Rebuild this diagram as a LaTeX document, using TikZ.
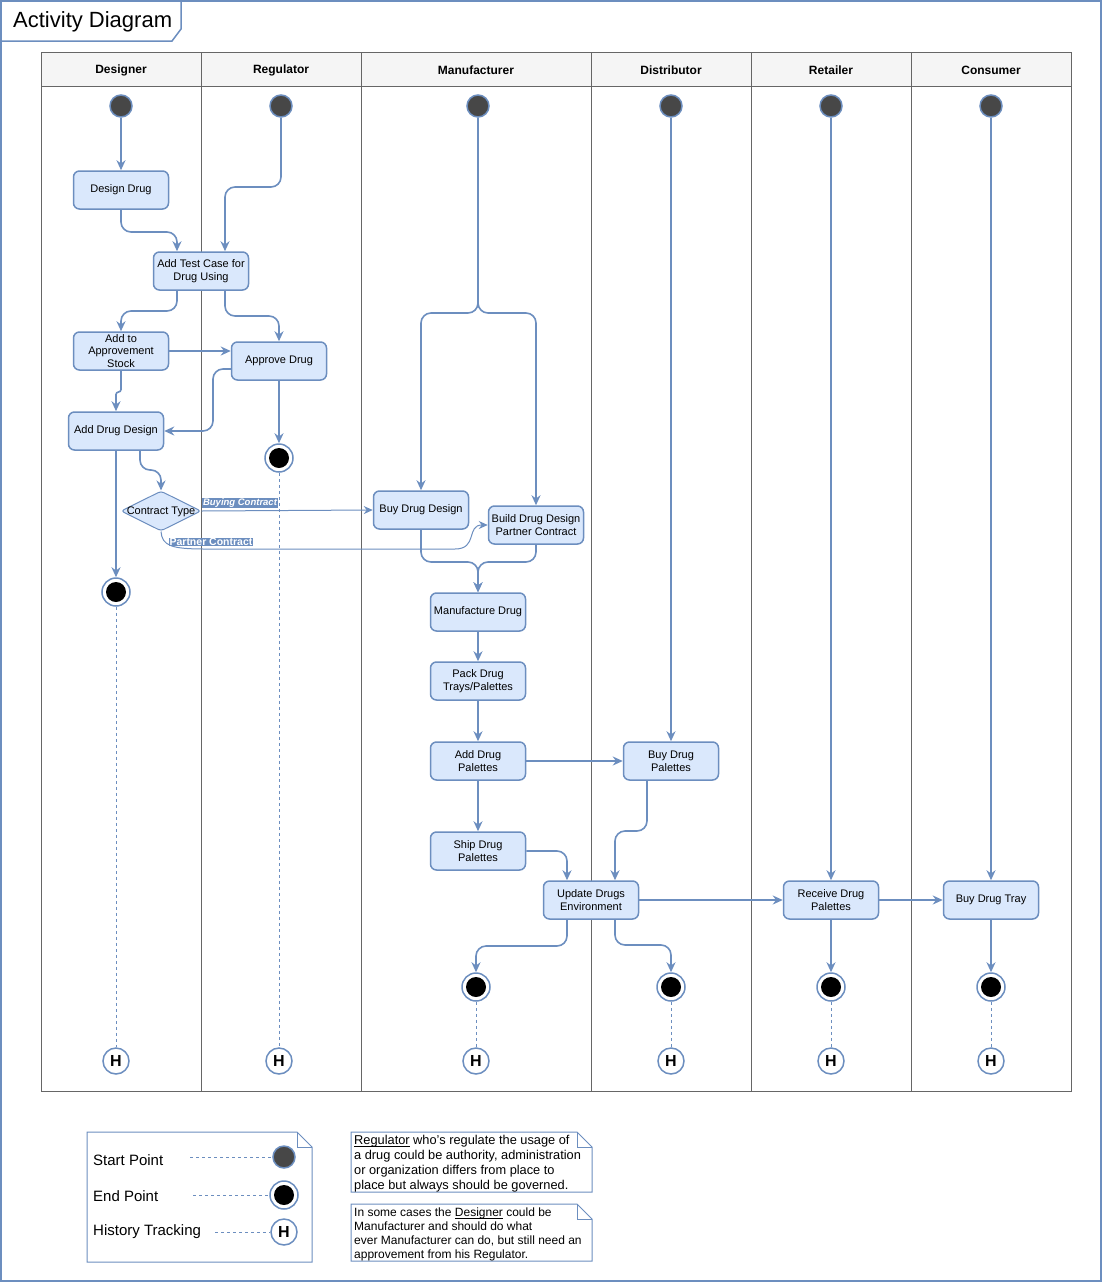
\documentclass[tikz,border=0pt]{standalone}
\usepackage{fontspec}
\setmainfont{Liberation Sans}
\usetikzlibrary{shapes.geometric,arrows.meta,calc}
\definecolor{bstroke}{HTML}{6C8EBF}
\definecolor{bfill}{HTML}{DAE8FC}
\definecolor{lanegray}{HTML}{666666}
\definecolor{headfill}{HTML}{F5F5F5}
\definecolor{startfill}{HTML}{474747}
\newcommand\myul[1]{\setbox0\hbox{#1}\rlap{\rule[-1.8pt]{\wd0}{0.7pt}}\box0\relax}
\begin{document}
\begin{tikzpicture}[x=1pt,y=-1pt,
  act/.style={draw=bstroke, fill=bfill, line width=1.5pt, rounded corners=6pt, minimum width=95pt, minimum height=38pt, align=center, inner sep=1pt, font=\fontsize{11}{13}\selectfont},
  startnode/.style={circle, draw=bstroke, fill=startfill, line width=1.5pt, minimum size=22pt, inner sep=0pt},
  endnode/.style={circle, draw=bstroke, fill=white, line width=1.5pt, minimum size=28pt, inner sep=0pt, path picture={\fill[black] (path picture bounding box.center) circle (10pt);}},
  hist/.style={circle, draw=bstroke, fill=white, line width=1.5pt, minimum size=26pt, inner sep=0pt, font=\bfseries\fontsize{16}{16}\selectfont},
  decision/.style={diamond, draw=bstroke, fill=bfill, line width=1pt, minimum width=80pt, minimum height=40pt, inner sep=0pt, rounded corners=3pt},
  edge/.style={draw=bstroke, line width=1.6pt, rounded corners=10pt, -{Stealth[length=10pt,width=9pt]}},
  thinedge/.style={draw=bstroke, line width=1pt, -{Stealth[length=9pt,width=8pt]}},
  elabel/.style={fill=bstroke, text=white, inner sep=0.6pt, font=\bfseries\fontsize{10.5}{12}\selectfont},
  dashline/.style={draw=bstroke, line width=0.8pt, dash pattern=on 3pt off 3pt},
  lanehead/.style={font=\bfseries\fontsize{12}{14}\selectfont},
  notebox/.style={draw=bstroke, line width=1pt, fill=white},
  plain/.style={inner sep=0pt}
]
\useasboundingbox (0,0) rectangle (1102,1282);
% outer frame
\draw[bstroke, line width=1.5pt] (1,1) rectangle (1101,1281);
\draw[bstroke, line width=1.5pt, fill=white] (1,1) -- (181,1) -- (181,29) -- (172,41) -- (1,41) -- cycle;
\node[anchor=west, inner sep=0pt, font=\fontsize{22}{26}\selectfont] (title) at (13,22) {Activity Diagram};

% swimlanes
\draw[lanegray, line width=1pt, fill=headfill] (41,52) rectangle (1071,86);
\draw[lanegray, line width=1pt] (41,86) rectangle (1071,1091);
\foreach \xx in {201,361,591,751,911} \draw[lanegray, line width=1pt] (\xx,52) -- (\xx,1091);
\node[lanehead] (hd1) at (121,70) {Designer};
\node[lanehead] (hd2) at (281,70) {Regulator};
\node[lanehead] (hd3) at (476,70) {Manufacturer};
\node[lanehead] (hd4) at (671,70) {Distributor};
\node[lanehead] (hd5) at (831,70) {Retailer};
\node[lanehead] (hd6) at (991,70) {Consumer};

% start nodes
\node[startnode] (s1) at (121,106) {};
\node[startnode] (s2) at (281,106) {};
\node[startnode] (s3) at (478,106) {};
\node[startnode] (s4) at (671,106) {};
\node[startnode] (s5) at (831,106) {};
\node[startnode] (s6) at (991,106) {};

% actions
\node[act] (dd) at (121,190) {Design Drug};
\node[act] (tc) at (201,271) {Add Test Case for\\Drug Using};
\node[act, font=\fontsize{11}{12.5}\selectfont, inner sep=0pt] (aas) at (121,351) {Add to\\Approvement\\Stock};
\node[act] (ad) at (279,361) {Approve Drug};
\node[act] (add) at (116,431) {Add Drug Design};
\node[endnode] (e2) at (279,458) {};
\node[decision] (ct) at (161,511) {};
\node[font=\fontsize{11}{13}\selectfont, inner sep=0pt] (ctl) at (161,511.5) {Contract Type};
\node[act] (bdd) at (421,510) {Buy Drug Design};
\node[act] (bpc) at (536,525) {Build Drug Design\\Partner Contract};
\node[endnode] (e1) at (116,592) {};
\node[act] (md) at (478,612) {Manufacture Drug};
\node[act] (pd) at (478,681) {Pack Drug\\Trays/Palettes};
\node[act] (adp) at (478,761) {Add Drug\\Palettes};
\node[act] (bdp) at (671,761) {Buy Drug\\Palettes};
\node[act] (sdp) at (478,851) {Ship Drug\\Palettes};
\node[act] (ude) at (591,900) {Update Drugs\\Environment};
\node[act] (rdp) at (831,900) {Receive Drug\\Palettes};
\node[act] (bdt) at (991,900) {Buy Drug Tray};

% end nodes
\node[endnode] (e3) at (476,987) {};
\node[endnode] (e4) at (671,987) {};
\node[endnode] (e5) at (831,987) {};
\node[endnode] (e6) at (991,987) {};

% history nodes
\node[hist] (h1) at (116,1061) {H};
\node[hist] (h2) at (279,1061) {H};
\node[hist] (h3) at (476,1061) {H};
\node[hist] (h4) at (671,1061) {H};
\node[hist] (h5) at (831,1061) {H};
\node[hist] (h6) at (991,1061) {H};

% edges Designer / Regulator
\draw[edge] (s1.south) -- (dd.north);
\draw[edge] (s2.south) -- (281,187) -- (225,187) -- ($(tc.north)+(24,0)$);
\draw[edge] (dd.south) -- (121,232) -- (177,232) -- ($(tc.north)+(-24,0)$);
\draw[edge] ($(tc.south)+(-24,0)$) -- (177,311) -- (121,311) -- (aas.north);
\draw[edge] ($(tc.south)+(24,0)$) -- (225,316) -- (279,316) -- (ad.north);
\draw[edge] (aas.east) -- (aas.east -| ad.west);
\draw[edge, rounded corners=2.5pt] (aas.south) -- (121,392) -- (116,392) -- (add.north);
\draw[edge] ($(ad.west)+(0,8)$) -- (213,369) -- (213,431) -- (add.east);
\draw[edge] (ad.south) -- (e2.north);
\draw[edge] ($(add.south)+(24,0)$) -- (140,470) -- (161,470) -- (ct.north);
\draw[edge] (add.south) -- (e1.north);

% contract type
\draw[thinedge] (ct.east) -- (bdd.west);
\node[elabel, font=\bfseries\itshape\fontsize{9.5}{11}\selectfont] (lbuy) at (240,503) {Buying Contract};
\draw[thinedge] (ct.south) .. controls (162,546) and (172,549) .. (205,549) -- (455,549) .. controls (478,549) and (466,525) .. (bpc.west);
\node[elabel] (lpart) at (211,542) {Partner Contract};

% manufacturer
\draw[edge] (s3.south) -- (478,313) -- (421,313) -- (bdd.north);
\draw[edge] (s3.south) -- (478,313) -- (536,313) -- (bpc.north);
\draw[edge] (bdd.south) -- (421,562) -- (478,562) -- (md.north);
\draw[edge] (bpc.south) -- (536,562) -- (478,562) -- (md.north);
\draw[edge] (md.south) -- (pd.north);
\draw[edge] (pd.south) -- (adp.north);
\draw[edge] (adp.south) -- (sdp.north);
\draw[edge] (adp.east) -- (bdp.west);
\draw[edge] (s4.south) -- (bdp.north);
\draw[edge] (sdp.east) -- (567,851) -- ($(ude.north)+(-24,0)$);
\draw[edge] ($(bdp.south)+(-24,0)$) -- (647,831) -- (615,831) -- ($(ude.north)+(24,0)$);
\draw[edge] (ude.east) -- (rdp.west);
\draw[edge] (s5.south) -- (rdp.north);
\draw[edge] (rdp.east) -- (bdt.west);
\draw[edge] (s6.south) -- (bdt.north);
\draw[edge] ($(ude.south)+(-24,0)$) -- (567,946) -- (476,946) -- (e3.north);
\draw[edge] ($(ude.south)+(24,0)$) -- (615,945) -- (671,945) -- (e4.north);
\draw[edge] (rdp.south) -- (e5.north);
\draw[edge] (bdt.south) -- (e6.north);

% dashed tracking lines
\draw[dashline] (e1.south) -- (h1.north);
\draw[dashline] (e2.south) -- (h2.north);
\draw[dashline] (e3.south) -- (h3.north);
\draw[dashline] (e4.south) -- (h4.north);
\draw[dashline] (e5.south) -- (h5.north);
\draw[dashline] (e6.south) -- (h6.north);

% legend
\draw[notebox] (87,1132) -- (297,1132) -- (312,1147) -- (312,1262) -- (87,1262) -- cycle;
\draw[bstroke, line width=1pt] (297,1132) -- (297,1147) -- (312,1147);
\node[plain, anchor=west, font=\fontsize{15}{17}\selectfont] (lg1) at (93,1160) {Start Point};
\node[plain, anchor=west, font=\fontsize{15}{17}\selectfont] (lg2) at (93,1196) {End Point};
\node[plain, anchor=west, font=\fontsize{15}{17}\selectfont] (lg3) at (93,1232) {History Tracking};
\node[startnode] (ls) at (284,1157) {};
\node[endnode] (le) at (284,1195) {};
\node[hist] (lh) at (284,1232) {H};
\coordinate (lc1) at (190,1157);
\coordinate (lc2) at (193,1195);
\coordinate (lc3) at (215,1232);
\draw[dashline] (lc1) -- (ls.west);
\draw[dashline] (lc2) -- (le.west);
\draw[dashline] (lc3) -- (lh.west);

% notes
\draw[notebox] (351,1132) -- (577,1132) -- (592,1147) -- (592,1192) -- (351,1192) -- cycle;
\draw[bstroke, line width=1pt] (577,1132) -- (577,1147) -- (592,1147);
\node[plain, anchor=north west, align=left, font=\fontsize{12.8}{15}\selectfont] (n1) at (354,1135) {\myul{Regulator} who's regulate the usage of\\a drug could be authority, administration\\or organization differs from place to\\place but always should be governed.};
\draw[notebox] (351,1204) -- (577,1204) -- (592,1219) -- (592,1261) -- (351,1261) -- cycle;
\draw[bstroke, line width=1pt] (577,1204) -- (577,1219) -- (592,1219);
\node[plain, anchor=north west, align=left, font=\fontsize{12}{14}\selectfont] (n2) at (354,1207.5) {In some cases the \myul{Designer} could be\\Manufacturer and should do what\\ever Manufacturer can do, but still need an\\approvement from his Regulator.};
\end{tikzpicture}
\end{document}
